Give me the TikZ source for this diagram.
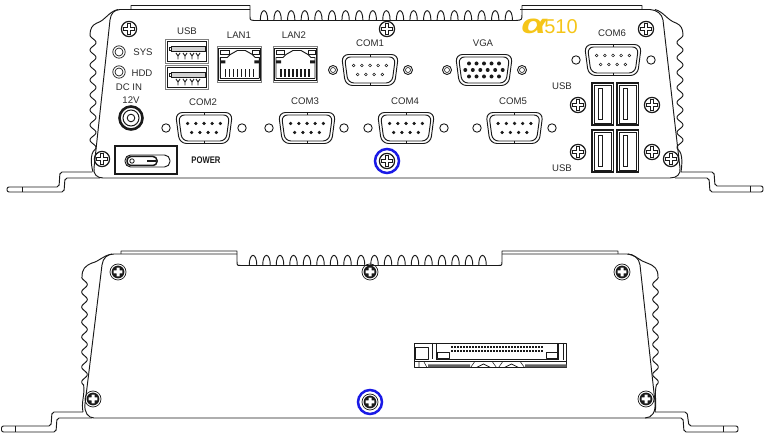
\documentclass[tikz,border=0pt]{standalone}
\usepackage{fontspec}
\setmainfont{Liberation Sans}
\definecolor{ink}{HTML}{1A1A1A}
\definecolor{labelgray}{HTML}{2A2A2A}
\definecolor{ringblue}{HTML}{1A1AE6}
\definecolor{logoyellow}{HTML}{F5C518}
\tikzset{
  panel/.style={draw=ink,line width=.95pt,line join=round},
  thinline/.style={draw=ink,line width=.55pt},
  lbl/.style={text=labelgray,font=\fontsize{9.6}{10}\selectfont,inner sep=0pt},
  pics/screw/.style={code={
    \draw[ink,line width=1.2pt] (0,0) circle (7.6);
    \draw[ink,line width=1pt,fill=white] (-1.9,-5.6) -- (1.9,-5.6) -- (1.9,-1.9) -- (5.6,-1.9) -- (5.6,1.9) -- (1.9,1.9) -- (1.9,5.6) -- (-1.9,5.6) -- (-1.9,1.9) -- (-5.6,1.9) -- (-5.6,-1.9) -- (-1.9,-1.9) -- cycle;
  }},
  pics/rearscrew/.style={code={
    \draw[ink,line width=.7pt] (0,0) circle (8);
    \fill[ink] (0,0) circle (6.4);
    \fill[white] (-1.5,-4.4) rectangle (1.5,4.4) (-4.4,-1.5) rectangle (4.4,1.5);
  }},
  pics/dsub/.style={code={
    \draw[panel,rounded corners=7pt] (-28.5,-15.5) -- (28.5,-15.5) -- (24.5,15.5) -- (-24.5,15.5) -- cycle;
    \draw[panel,rounded corners=6pt] (-25.5,-13) -- (25.5,-13) -- (22,13) -- (-22,13) -- cycle;
    \draw[thinline] (0,-15.5) -- (0,-13) (0,13) -- (0,15.5);
    \foreach \x in {-16.4,-8.2,0,8.2,16.4}
      \filldraw[ink,fill=#1,line width=.5pt] (\x,-4.5) circle (1.4);
    \foreach \x in {-12.3,-4.1,4.1,12.3}
      \filldraw[ink,fill=#1,line width=.5pt] (\x,4.5) circle (1.4);
  }},
  pics/vga/.style={code={
    \draw[panel,rounded corners=7pt] (-28.5,-15.5) -- (28.5,-15.5) -- (24.5,15.5) -- (-24.5,15.5) -- cycle;
    \draw[panel,rounded corners=6pt] (-25.5,-13) -- (25.5,-13) -- (22,13) -- (-22,13) -- cycle;
    \foreach \x in {-15,-7.5,0,7.5,15} {
      \fill[ink] (\x,-6.5) circle (2);
      \fill[ink] (\x,6.5) circle (2);
    }
    \foreach \x in {-18.7,-11.2,-3.7,3.7,11.2,18.7}
      \fill[ink] (\x,0) circle (2);
  }},
  pics/usbport/.style={code={
    \draw[gray,line width=.8pt] (0,0) rectangle (43.5,24);
    \draw[ink,line width=.9pt] (2,2) rectangle (41.5,22);
    \draw[ink,line width=1pt,fill=gray!35] (6.5,7.5) rectangle (40,12.5);
    \draw[thinline] (6.5,8.5) -- (4,8.5) -- (4,11.5) -- (6.5,11.5);
    \foreach \x in {13,20,27,33}
      \draw[ink,line width=.9pt] (\x-2,14) -- (\x,17) -- (\x+2,14) (\x,17) -- (\x,20.5);
  }},
  pics/rj/.style={code={
    \draw[gray,line width=.9pt] (0,0) rectangle (44.5,35.5);
    \draw[ink,line width=.7pt] (1.5,1.5) rectangle (43,34);
    \draw[thinline] (3.3,4) rectangle (11.5,8) (35,4) rectangle (42,8);
    \draw[panel] (3,32) -- (3,11) -- (10,11) -- (13,8) -- (20,4) -- (28,4) -- (35,8) -- (38,11) -- (42,11) -- (42,32);
    \fill[ink] (3,14) rectangle (8,17) (37,14) rectangle (42,17);
    \foreach \x in {8,12,...,36}
      \draw[ink,line width=1.5pt] (\x,23) -- (\x,31);
    \draw[ink,line width=1.4pt] (3,32) -- (42,32);
  }},
  pics/usbslot/.style={code={
    \draw[ink,line width=1.2pt] (0,0) rectangle (21.5,42);
    \draw[thinline] (2,2) rectangle (19.5,40);
    \fill[ink] (6,5) rectangle (11,37);
    \fill[white] (7.2,6.2) rectangle (9.8,35.8);
  }},
}
\begin{document}
\begin{tikzpicture}[x=1pt,y=-1pt]
\useasboundingbox (0,0) rectangle (764,435);
% front panel
\draw[panel] (520,9.5) -- (650,9.5) .. controls (657,10) and (662,14) .. (663,20) -- (680,168) .. controls (681,174) and (677,178) .. (670,178) -- (103,178) .. controls (97,178) and (93,174) .. (94,168) -- (110,20) .. controls (111,13) and (114,10) .. (120,9.5) -- (250,9.5);
\draw[panel] (131,9.5) -- (131,5.5) -- (250,5.5) -- (250,16) .. controls (250,20) .. (254,20.5) -- (516,20.5) .. controls (522,20) .. (522,14) -- (522,5.5) -- (642,5.5) -- (642,9.5);
\foreach \x in {264,277.6,...,510}
  \draw[panel] (\x-3.7,20.5) .. controls (\x-3.7,7.4) and (\x+3.7,7.4) .. (\x+3.7,20.5);
% side fins
\draw[panel] (118,9.5) .. controls (108,12) and (106,20) .. (97,23) .. controls (92,25) and (90,29) .. (90,35) plot[domain=35:150,samples=140] ({93-3*cos(24*(\x-35))},\x) .. controls (90,154) and (91,165) .. (93,172);
\draw[panel] (655,9.5) .. controls (664,12) and (667,20) .. (676,23) .. controls (681,25) and (683,29) .. (683,35) plot[domain=35:150,samples=140] ({680+3*cos(24*(\x-35))},\x) .. controls (683,154) and (682,165) .. (681,172);
% mounting flanges
\draw[panel,rounded corners=2pt] (92,172) -- (60,172) -- (59,187) -- (7,187) -- (7,192) -- (64,192) -- (65,178) -- (100,178);
\draw[thinline] (22.6,187) -- (22.6,192);
\draw[panel,rounded corners=2pt] (681,172) -- (714,172) -- (715,186) -- (763,186) -- (763,192) -- (710,192) -- (709,178) -- (675,178);
\draw[thinline] (750.7,186) -- (750.7,192);
% screws
\foreach \x in {{129,29},{102,159},{387,29},{387,161},{646,29},{578,105},{652,105},{578,152},{652,152},{671,159}}
  \draw (\x) pic {screw};
\draw[ringblue,line width=2.5pt] (387,161) circle (12);
% leds and dc jack
\foreach \x in {{119,52},{119,72}} {
  \draw[ink,line width=.7pt] (\x) circle (6.2);
  \draw[ink,line width=.7pt] (\x) circle (4);
}
\draw[ink,line width=2.6pt] (131,118) circle (11.5);
\draw[ink,line width=1pt] (131,118) circle (8);
\draw[ink,line width=.9pt] (131,118) circle (3.8);
% power switch
\draw[ink,line width=1.3pt] (115,146) rectangle (177,174);
\draw[panel,rounded corners=5.5pt] (125,155) rectangle (170,167);
\draw[ink,line width=1.5pt,rounded corners=4pt] (127,156.5) rectangle (157,165.5);
\draw[ink,line width=.8pt] (132,161) circle (2.2);
\fill[ink] (147,160) rectangle (156,162);
% usb and lan
\draw (165,39) pic {usbport};
\draw (165,65) pic {usbport};
\draw (217.3,46.5) pic {rj};
\draw (273,46.5) pic {rj};
% serial ports
\foreach \x/\y/\a in {370/70/white,613/60/white,204/128/ink,307/128/ink,406/128/ink,514.5/128/ink}
  \draw (\x,\y) pic {dsub=\a};
\draw (484,70) pic {vga};
\foreach \x in {{333,70},{408,70},{447,70},{522,70}} {
  \draw[ink,line width=.9pt] (\x) circle (4.5);
  \draw[ink,line width=.6pt] (\x) circle (2.5);
}
\foreach \x in {{166,128},{242,128},{269,128},{344,128},{368,128},{444,128},{477,128},{552,128},{576,60},{651,60}}
  \draw[ink,line width=.9pt] (\x) circle (4.2);
% quad usb
\foreach \x in {{592,83},{617,83},{592,130},{617,130}}
  \draw (\x) pic {usbslot};
% labels
\node[lbl] (sys) at (143,52) {SYS};
\node[lbl] (hdd) at (142,73) {HDD};
\node[lbl] (dcin) at (129,87) {DC IN};
\node[lbl] (dcv) at (131,100) {12V};
\node[lbl] (usba) at (187,31) {USB};
\node[lbl] (lana) at (239,35) {LAN1};
\node[lbl] (lanb) at (294,35) {LAN2};
\node[lbl] (coma) at (370,43) {COM1};
\node[lbl] (vga) at (483,43) {VGA};
\node[lbl] (comb) at (203,102) {COM2};
\node[lbl] (comc) at (305,101) {COM3};
\node[lbl] (comd) at (405,101) {COM4};
\node[lbl] (come) at (513,101) {COM5};
\node[lbl] (comf) at (612,33) {COM6};
\node[lbl] (usbb) at (562,86) {USB};
\node[lbl] (usbc) at (562,168) {USB};
\node[lbl,xscale=.8,font=\fontsize{9.6}{10}\selectfont\bfseries,text=ink] (power) at (206,160) {POWER};
\node[inner sep=0pt,xscale=1.5,text=logoyellow,font=\fontsize{27}{27}\selectfont\bfseries\itshape] (alpha) at (534,26) {α};
\node[inner sep=0pt,text=logoyellow,font=\fontsize{20}{20}\selectfont] (model) at (561,27) {510};
% rear panel
\draw[panel] (502,254) -- (627,254) .. controls (634,254) and (639,258) .. (640,265) -- (655,402) .. controls (656,412) and (652,418) .. (645,418) -- (94,418) .. controls (88,418) and (84,412) .. (85,404) -- (102,265) .. controls (103,258) and (107,254) .. (114,254) -- (237,254);
\draw[panel] (121,254) -- (121,251) -- (237,251) -- (237,261) .. controls (237,265.5) .. (241,265.5) -- (498,265.5) .. controls (502,265.5) .. (502,261) -- (502,251) -- (618,251) -- (618,254);
\foreach \x in {253,266.5,...,495}
  \draw[panel] (\x-3.8,265.5) .. controls (\x-3.8,252) and (\x+3.8,252) .. (\x+3.8,265.5);
\draw[panel] (112,254) .. controls (102,256) and (100,261) .. (92,263) .. controls (85,266) and (82,269) .. (82,277) plot[domain=277:385,samples=130] ({84.5-2.8*cos(24*(\x-277))},\x) .. controls (85,395) and (81,402) .. (83,412);
\draw[panel] (628,254) .. controls (637,256) and (640,261) .. (647,263) .. controls (655,266) and (658,269) .. (658,277) plot[domain=277:385,samples=130] ({655.5+2.8*cos(24*(\x-277))},\x) .. controls (654,395) and (657,402) .. (655,412);
\draw[panel,rounded corners=2pt] (83,412) -- (52,412) -- (51,426) -- (1.5,426) -- (1.5,432) -- (56,432) -- (57,418) -- (92,418);
\draw[thinline] (15.7,426) -- (15.7,432);
\draw[panel,rounded corners=2pt] (655,412) -- (687,412) -- (689,426) -- (738,426) -- (738,432) -- (684,432) -- (683,418) -- (645,418);
\draw[thinline] (723,426) -- (723,432);
\foreach \x in {{118,272},{370,272},{622,272},{93,399},{646,399},{370,402}}
  \draw (\x) pic {rearscrew};
\draw[ringblue,line width=2.5pt] (370,402) circle (12);
% storage connector
\draw[panel] (414,343) rectangle (566.7,367.5);
\draw[panel] (415,347) rectangle (428,359);
\draw[thinline] (432.7,343) -- (432.7,359) (557.7,343) -- (557.7,360) (563,343) -- (563,360);
\draw[ink,line width=1pt] (436.7,343) -- (436.7,359.5) -- (558,359.5) -- (558,343);
\draw[panel] (437.7,352) rectangle (449,358);
\draw[panel] (546,352) rectangle (558,358);
\foreach \x in {452,455,...,544} {
  \fill[ink] (\x-.9,345.6) rectangle (\x+.9,347.8);
  \fill[ink] (\x-.9,349.6) rectangle (\x+.9,351.8);
}
\draw[ink,line width=1pt] (414,362) -- (566.7,362);
\fill[ink!70] (428,364.5) rectangle (470,367.5) (525,364.5) rectangle (566.7,367.5);
\foreach \x in {483.5,511.5} {
  \draw[thinline] (\x-13,367.5) -- (\x-9,362) (\x+9,362) -- (\x+13,367.5);
  \draw[ink,line width=.8pt] (\x-7,367.5) -- (\x,364) -- (\x+7,367.5);
}
\draw[thinline] (419,362) -- (419,367.5) (424,362) -- (427,367.5);
\end{tikzpicture}
\end{document}
